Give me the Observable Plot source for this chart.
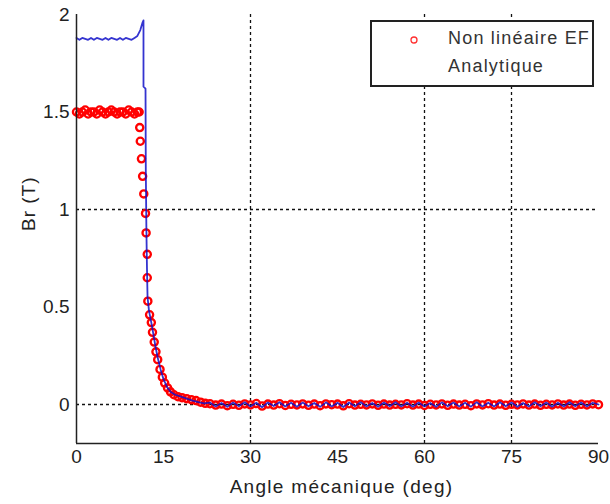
<!DOCTYPE html>
<html>
<head>
<meta charset="utf-8">
<script src="https://cdn.jsdelivr.net/npm/d3@7"></script>
<script src="https://cdn.jsdelivr.net/npm/@observablehq/plot@0.6"></script>
<style>
  body { margin: 0; background: #fff; }
  #wrap { position: relative; width: 610px; height: 504px; font-family: "Liberation Sans", Arial, sans-serif; }
  #legend { position: absolute; left: 370px; top: 20px; width: 220px; height: 63px; border: 2px solid #222; background: #fff; color: #333; font-size: 18px; letter-spacing: 1.2px; }
  #legend .row { position: absolute; left: 76px; white-space: nowrap; }
  #legend svg { position: absolute; left: 34px; top: 10px; }
</style>
</head>
<body>
<div id="wrap"></div>
<script>
// ----- tick labels / axis text -----
const xTicks = [0, 15, 30, 45, 60, 75, 90];
const yTicks = [0, 0.5, 1, 1.5, 2];
const xGrid = [30, 60, 75];
const yGrid = [0, 1];
const xLabel = "Angle mécanique (deg)";
const yLabel = "Br (T)";
const seriesNames = ["Non linéaire EF", "Analytique"];

// ----- Non linéaire EF (red markers) -----
const feAngle = [0,0.5,1,1.5,2,2.5,3,3.5,4,4.5,5,5.5,6,6.5,7,7.5,8,8.5,9,9.5,10,10.5,10.8,
  10.9,11.0,11.2,11.4,11.6,11.9,12.0,12.2,12.2,12.3,12.6,12.9,13.1,13.4,13.7,14.0,14.4,14.8,15.2,15.7,16.2,16.8,17.5,18.2,19.0,19.8,20.6,21.4,22.2,
  23,24,25,26,27,28,29,30,31,32,33,34,35,36,37,38,39,40,41,42,43,44,45,46,47,48,49,50,51,52,53,54,55,56,
  57,58,59,60,61,62,63,64,65,66,67,68,69,70,71,72,73,74,75,76,77,78,79,80,81,82,83,84,85,86,87,88,89,90];
const feBr = [1.50,1.49,1.50,1.51,1.49,1.50,1.50,1.49,1.51,1.50,1.49,1.50,1.51,1.50,1.49,1.50,1.50,1.49,1.51,1.50,1.49,1.50,1.50,
  1.42,1.35,1.26,1.17,1.08,0.98,0.88,0.77,0.65,0.53,0.46,0.42,0.37,0.32,0.27,0.23,0.18,0.14,0.11,0.085,0.065,0.05,0.04,0.035,0.03,0.025,0.02,0.012,0.006,
  0.004,-0.003,0.002,-0.006,0.001,-0.004,0.003,-0.002,0.005,-0.008,0.002,-0.003,0.004,-0.005,0.001,-0.002,0.003,-0.004,0.002,-0.006,0.003,-0.001,0.002,-0.007,0.004,-0.003,0.001,-0.002,0.003,-0.004,0.002,-0.003,0.001,-0.002,
  0.004,-0.003,0.002,-0.005,0.001,-0.002,0.003,-0.004,0.002,-0.003,0.001,-0.006,0.003,-0.002,0.004,-0.003,0.002,-0.004,0.001,-0.002,0.003,-0.003,0.002,-0.004,0.001,-0.002,0.003,-0.003,0.002,-0.004,0.001,-0.002,0.003,-0.001];

// ----- Analytique (blue line) -----
const anAngle = [0,0.5,1,1.5,2,2.5,3,3.5,4,4.5,5,5.5,6,6.5,7,7.5,8,8.5,9,9.5,10,10.5,11.0,11.4,11.55,11.55,11.9,11.95,12.05,12.15,12.25,
  12.5,12.9,13.2,13.6,14.0,14.5,15.0,15.6,16.2,17,18,19,20,21,22,
  23,24,25,26,27,28,29,30,31,32,33,34,35,36,37,38,39,40,41,42,43,44,45,46,47,48,49,50,51,52,53,54,55,56,
  57,58,59,60,61,62,63,64,65,66,67,68,69,70,71,72,73,74,75,76,77,78,79,80,81,82,83,84,85,86,87,88,89,90];
const anBr = [1.88,1.87,1.88,1.875,1.87,1.88,1.87,1.88,1.875,1.87,1.88,1.87,1.88,1.875,1.87,1.88,1.87,1.88,1.875,1.87,1.88,1.89,1.92,1.96,1.97,1.63,1.62,1.2,0.9,0.7,0.55,
  0.48,0.42,0.37,0.3,0.24,0.18,0.13,0.09,0.065,0.05,0.04,0.03,0.02,0.012,0.006,
  0.01,-0.01,0.008,-0.012,0.01,-0.009,0.011,-0.01,0.009,-0.014,0.01,-0.008,0.012,-0.01,0.009,-0.011,0.01,-0.009,0.008,-0.012,0.011,-0.01,0.009,-0.013,0.01,-0.009,0.011,-0.01,0.008,-0.011,0.01,-0.009,0.012,-0.01,
  0.009,-0.011,0.01,-0.01,0.008,-0.012,0.011,-0.009,0.01,-0.01,0.009,-0.011,0.012,-0.01,0.009,-0.01,0.011,-0.009,0.01,-0.012,0.008,-0.01,0.011,-0.009,0.01,-0.011,0.009,-0.01,0.012,-0.009,0.01,-0.01,0.009,0.0];

const fe = feAngle.map((a, i) => ({angle: a, br: feBr[i]}));
const an = anAngle.map((a, i) => ({angle: a, br: anBr[i]}));

const chart = Plot.plot({
  width: 610,
  height: 504,
  marginLeft: 76,
  marginRight: 12,
  marginTop: 14,
  marginBottom: 61,
  style: {fontFamily: "'Liberation Sans', Arial, sans-serif", fontSize: "19px", color: "#222", background: "#fff"},
  x: {domain: [0, 90]},
  y: {domain: [-0.2, 2]},
  marks: [
    Plot.ruleX(xGrid, {y1: -0.2, y2: 2, stroke: "#111", strokeWidth: 1.3, strokeDasharray: "3,3"}),
    Plot.ruleY(yGrid, {x1: 0, x2: 90, stroke: "#111", strokeWidth: 1.3, strokeDasharray: "3,3"}),
    Plot.dot(fe, {x: "angle", y: "br", r: 3.6, stroke: "#ff0000", strokeWidth: 2.3, fill: "none"}),
    Plot.line(an, {x: "angle", y: "br", stroke: "#1010c8", strokeWidth: 1.8, strokeOpacity: 0.85}),
    Plot.ruleX([0], {y1: -0.2, y2: 2, stroke: "#222", strokeWidth: 1.5}),
    Plot.ruleY([-0.2], {x1: 0, x2: 90, stroke: "#222", strokeWidth: 1.5}),
    Plot.axisX(xTicks, {tickSize: 0, tickPadding: 6, fontSize: 19, label: null, tickFormat: d => String(d)}),
    Plot.axisY(yTicks, {tickSize: 0, tickPadding: 7, fontSize: 19, label: null, tickFormat: d => String(d)}),
    Plot.text([xLabel], {frameAnchor: "bottom", dy: 49, dx: 4, fontSize: 19, fill: "#222"}),
    Plot.text([yLabel], {frameAnchor: "left", rotate: -90, dx: -48, dy: 2, fontSize: 19, fill: "#222"})
  ]
});

d3.select(chart).selectAll("text").filter(function () {
  const t = this.textContent;
  return t === xLabel || t === yLabel;
}).style("letter-spacing", function () { return this.textContent === xLabel ? "1.3px" : "1px"; });

const wrap = document.getElementById("wrap");
wrap.appendChild(chart);

const legend = document.createElement("div");
legend.id = "legend";
legend.innerHTML =
  `<svg width="16" height="16"><circle cx="8" cy="8" r="3" fill="none" stroke="#ff3030" stroke-width="1.3"/></svg>` +
  `<div class="row" style="top:6px">${seriesNames[0]}</div>` +
  `<div class="row" style="top:34px">${seriesNames[1]}</div>`;
wrap.appendChild(legend);
</script>
</body>
</html>
